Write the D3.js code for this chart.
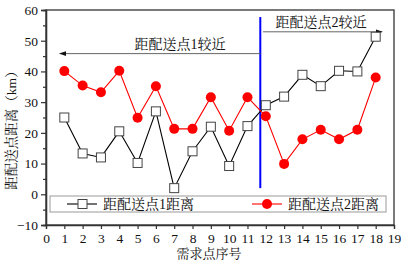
<!DOCTYPE html>
<html><head><meta charset="utf-8">
<script src="https://cdn.jsdelivr.net/npm/d3@7"></script>
<style>body{margin:0;background:#fff}svg{display:block}text{font-family:'Liberation Serif','Noto Serif CJK SC',serif}</style>
</head><body>
<script>
const points = [1,2,3,4,5,6,7,8,9,10,11,12,13,14,15,16,17,18];
const dist1 = [25,13.3,12,20.5,10.2,27,2,14,22,9.2,22.2,29,31.8,38.9,35.2,40.2,40,51.3];
const dist2 = [40.1,35.4,33.2,40.2,24.9,35.2,21.3,21.3,31.6,20.7,31.6,25.4,9.9,17.9,21,17.9,21,38];
const series1Name = "距配送点1距离";
const series2Name = "距配送点2距离";
const xTicks = d3.range(0,20);
const yTicks = [-10,0,10,20,30,40,50,60];
const xTitle = "需求点序号";
const yTitle = "距配送点距离（km）";
const note1 = "距配送点1较近";
const note2 = "距配送点2较近";
const splitX = 11.7;

const W=401,H=264;
const L=46,R=394,T=10,B=225;
const font = "'Liberation Serif','Noto Serif CJK SC',serif";
const svg=d3.select("body").append("svg").attr("width",W).attr("height",H);
const x=d3.scaleLinear().domain([0,19]).range([L,R]);
const y=d3.scaleLinear().domain([-10,60]).range([B,T]);

svg.append("defs").append("marker").attr("id","ah").attr("viewBox","0 0 10 10")
  .attr("refX",9).attr("refY",5).attr("markerWidth",7).attr("markerHeight",7)
  .attr("orient","auto-start-reverse")
  .append("path").attr("d","M0,1.5L10,5L0,8.5Z").attr("fill","#111");

svg.append("rect").attr("x",L).attr("y",T).attr("width",R-L).attr("height",B-T)
  .attr("fill","none").attr("stroke","#333").attr("stroke-width",1.3);

const yAx=svg.append("g").attr("transform",`translate(${L},0)`)
  .call(d3.axisLeft(y).tickValues(yTicks).tickSize(5).tickPadding(3));
const yMinor=svg.append("g").attr("transform",`translate(${L},0)`)
  .call(d3.axisLeft(y).tickValues(d3.range(-5,60,10)).tickSize(3).tickFormat(""));
const xAx=svg.append("g").attr("transform",`translate(0,${B})`)
  .call(d3.axisBottom(x).tickValues(xTicks).tickSize(4).tickPadding(4));
[yAx,yMinor,xAx].forEach(g=>{
  g.attr("font-family",null);
  g.select(".domain").attr("stroke","#333").attr("stroke-width",1.3);
  g.selectAll(".tick line").attr("stroke","#333").attr("stroke-width",1.2);
  g.selectAll("text").attr("font-size",13.5).attr("fill","#111");
});

svg.append("text").attr("x",209).attr("y",258).attr("text-anchor","middle")
  .attr("font-size",13).attr("fill","#111").text(xTitle);
svg.append("text").attr("transform","translate(16,127) rotate(-90)")
  .attr("text-anchor","middle").attr("font-size",13.5).attr("fill","#111").text(yTitle);

svg.append("line").attr("x1",x(splitX)).attr("x2",x(splitX)).attr("y1",y(57.7)).attr("y2",y(2))
  .attr("stroke","#0000ff").attr("stroke-width",2);

svg.append("line").attr("x1",x(splitX)).attr("x2",x(0.75)).attr("y1",y(45.8)).attr("y2",y(45.8))
  .attr("stroke","#666").attr("stroke-width",1).attr("marker-end","url(#ah)");
svg.append("text").attr("x",180).attr("y",49).attr("text-anchor","middle")
  .attr("font-size",14).attr("fill","#111").text(note1);
svg.append("line").attr("x1",x(11.85)).attr("x2",x(18.35)).attr("y1",y(52.9)).attr("y2",y(52.9))
  .attr("stroke","#666").attr("stroke-width",1).attr("marker-end","url(#ah)");
svg.append("text").attr("x",321).attr("y",27).attr("text-anchor","middle")
  .attr("font-size",14).attr("fill","#111").text(note2);

const line=d3.line().x((d,i)=>x(points[i])).y(d=>y(d));
svg.append("path").datum(dist1).attr("d",line).attr("fill","none").attr("stroke","#000").attr("stroke-width",1.1);
svg.append("path").datum(dist2).attr("d",line).attr("fill","none").attr("stroke","#ff0000").attr("stroke-width",1.1);
svg.selectAll(".sq").data(dist1).join("rect").attr("class","sq")
  .attr("x",(d,i)=>x(points[i])-4.5).attr("y",d=>y(d)-4.5).attr("width",9).attr("height",9)
  .attr("fill","#fff").attr("stroke","#444").attr("stroke-width",1);
svg.selectAll(".ci").data(dist2).join("circle").attr("class","ci")
  .attr("cx",(d,i)=>x(points[i])).attr("cy",d=>y(d)).attr("r",5).attr("fill","#ff0000");

svg.append("rect").attr("x",50).attr("y",196).attr("width",336).attr("height",16)
  .attr("fill","#fff").attr("stroke","#999").attr("stroke-width",1);
const lg1=svg.append("g");
lg1.append("line").attr("x1",67).attr("x2",97).attr("y1",204).attr("y2",204).attr("stroke","#000").attr("stroke-width",1.1);
lg1.append("rect").attr("x",78).attr("y",199.5).attr("width",9).attr("height",9).attr("fill","#fff").attr("stroke","#444");
lg1.append("text").attr("x",103).attr("y",209).attr("font-size",14).attr("fill","#111").text(series1Name);
const lg2=svg.append("g");
lg2.append("line").attr("x1",252).attr("x2",282).attr("y1",204).attr("y2",204).attr("stroke","#ff0000").attr("stroke-width",1.1);
lg2.append("circle").attr("cx",267).attr("cy",204).attr("r",5).attr("fill","#ff0000");
lg2.append("text").attr("x",288).attr("y",209).attr("font-size",14).attr("fill","#111").text(series2Name);
</script>
</body></html>
